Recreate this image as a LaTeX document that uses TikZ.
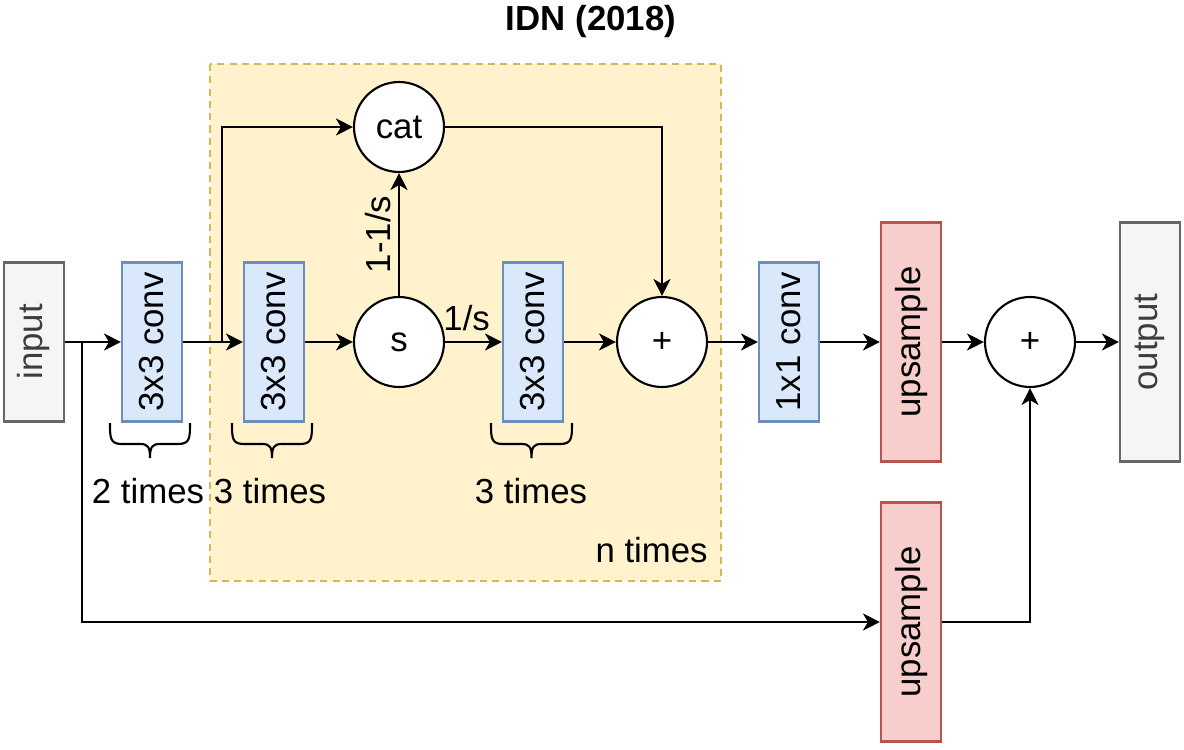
\documentclass[tikz,border=0pt]{standalone}
\usepackage{fontspec}
\setmainfont{Liberation Sans}
\usetikzlibrary{arrows.meta}
\definecolor{boxgray}{HTML}{F5F5F5}
\definecolor{boxgraydraw}{HTML}{666666}
\definecolor{convfill}{HTML}{DAE8FC}
\definecolor{convdraw}{HTML}{6C8EBF}
\definecolor{upfill}{HTML}{F8CECC}
\definecolor{updraw}{HTML}{B85450}
\definecolor{grpfill}{HTML}{FFF2CC}
\definecolor{grpdraw}{HTML}{D6B656}
\newcommand{\mybrace}[2]{%
  \pgfmathsetmacro{\bm}{(#1+#2)/2}%
  \draw[bracestyle] (#1,423) .. controls (#1,438) and (#1,444) .. ({#1+12},444) -- ({\bm-10},444)
    .. controls ({\bm-2},444) and (\bm,447) .. (\bm,458)
    .. controls (\bm,447) and ({\bm+2},444) .. ({\bm+10},444) -- ({#2-12},444)
    .. controls (#2,444) and (#2,438) .. (#2,423);}
\begin{document}
\begin{tikzpicture}[x=0.02cm,y=-0.02cm,
  every node/.style={font=\fontsize{19.8}{23}\selectfont, inner sep=0pt},
  tallbox/.style={draw, line width=1.2pt, minimum width=1.2cm, minimum height=3.18cm},
  bigbox/.style={draw, line width=1.2pt, minimum width=1.2cm, minimum height=4.78cm},
  iobox/.style={bigbox, fill=boxgray, draw=boxgraydraw, text=boxgraydraw!60!black},
  convbox/.style={tallbox, fill=convfill, draw=convdraw},
  upbox/.style={bigbox, fill=upfill, draw=updraw},
  opcircle/.style={circle, draw, fill=white, line width=1.2pt, minimum size=1.8cm},
  arr/.style={line width=1.2pt, -{Stealth[length=0.34cm, width=0.34cm, inset=0.1cm]}},
  bracestyle/.style={line width=1.2pt}
]
\useasboundingbox (0,0) rectangle (1184,750);

% group box
\draw[fill=grpfill, draw=grpdraw, line width=1.2pt, dash pattern=on 4pt off 3pt] (210,64) rectangle (721,581);

\node[font=\fontsize{19.8}{23}\selectfont\bfseries] (title) at (591,22) {IDN (2018)};

% nodes
\node[iobox, minimum height=3.18cm] (input) at (34,342) {\rotatebox{90}{input}};
\node[convbox] (conv1) at (152,342) {\rotatebox{90}{3x3 conv}};
\node[convbox] (conv2) at (274,342) {\rotatebox{90}{3x3 conv}};
\node[opcircle] (cat) at (399,127) {cat};
\node[opcircle] (s) at (399,342) {s};
\node[convbox] (conv3) at (533,342) {\rotatebox{90}{3x3 conv}};
\node[opcircle] (plus) at (662,342) {+};
\node[convbox] (conv4) at (789,342) {\rotatebox{90}{1x1 conv}};
\node[upbox] (up1) at (911,342) {\rotatebox{90}{upsample}};
\node[opcircle] (plus2) at (1030,342) {+};
\node[iobox] (output) at (1150,342) {\rotatebox{90}{output}};
\node[upbox] (up2) at (911,622) {\rotatebox{90}{upsample}};

% braces and labels
\mybrace{110}{190}
\mybrace{232}{312}
\mybrace{491}{572}
\node (t1) at (148,491) {2 times};
\node (t2) at (270,491) {3 times};
\node (t3) at (531,491) {3 times};
\node[anchor=east] (tn) at (708,550) {n times};

% connectors
\coordinate (j1) at (82,342);
\coordinate (j2) at (222,342);
\draw[arr] (input) -- (conv1);
\draw[arr] (j1) |- (up2);
\draw[arr] (conv1) -- (conv2);
\draw[arr] (j2) |- (cat);
\draw[arr] (conv2) -- (s);
\draw[arr] (s) -- (cat) node[midway, rotate=90, anchor=south, yshift=4pt] {1-1/s};
\draw[arr] (s) -- (conv3) node[pos=0.38, anchor=south, yshift=6pt] {1/s};
\draw[arr] (conv3) -- (plus);
\draw[arr] (cat) -| (plus);
\draw[arr] (plus) -- (conv4);
\draw[arr] (conv4) -- (up1);
\draw[arr] (up1) -- (plus2);
\draw[arr] (plus2) -- (output);
\draw[arr] (up2) -| (plus2);
\end{tikzpicture}
\end{document}
